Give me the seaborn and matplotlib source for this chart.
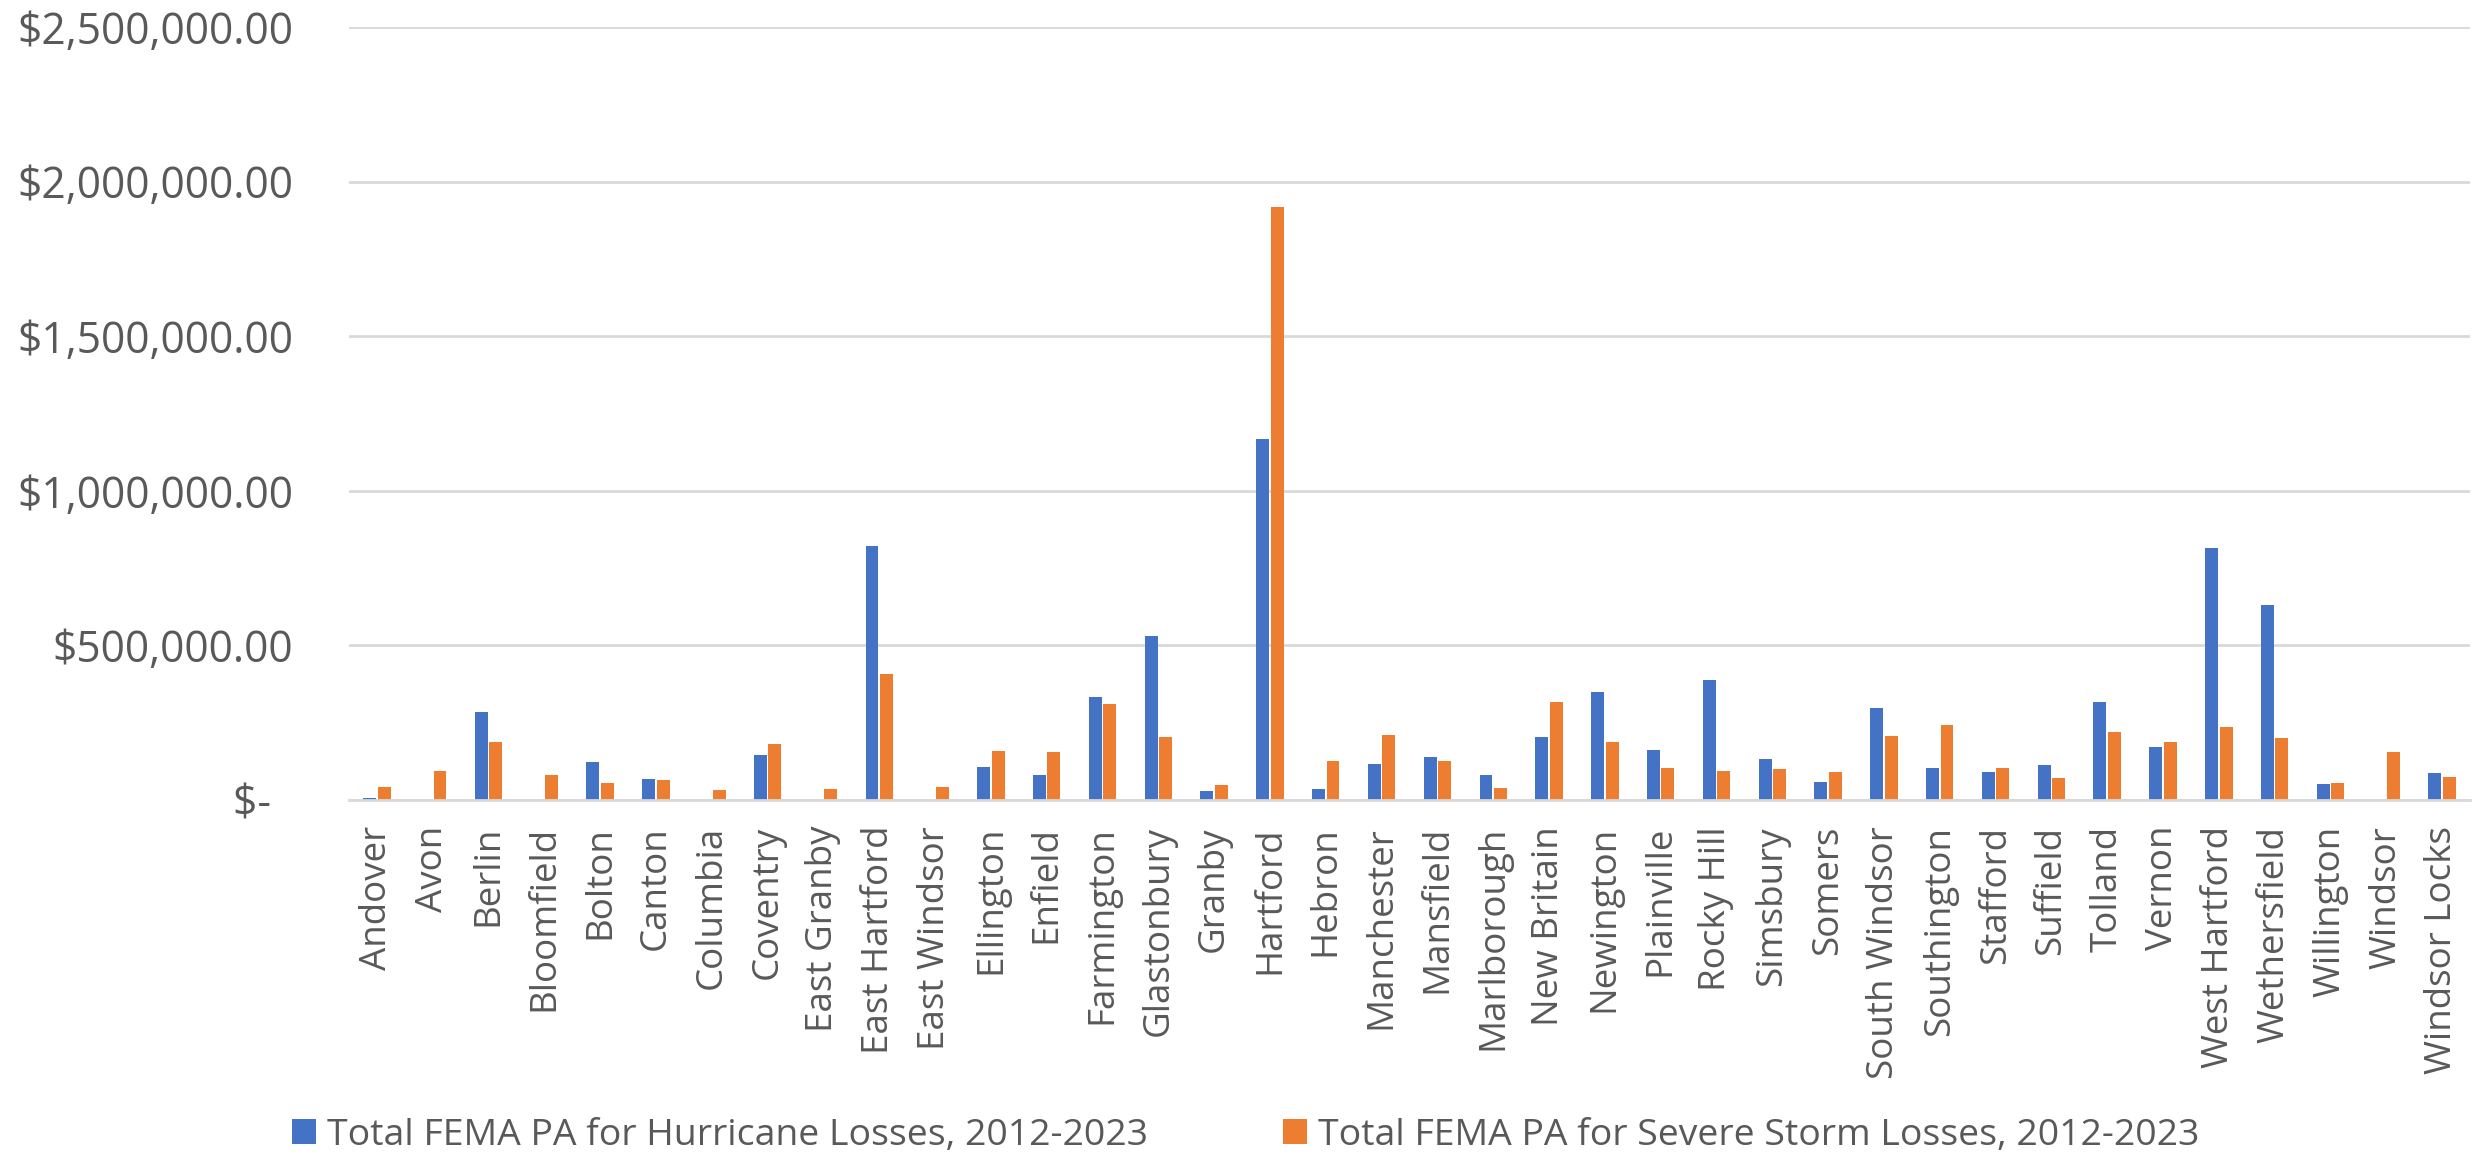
import matplotlib
matplotlib.use("Agg")
import matplotlib.pyplot as plt
import matplotlib.ticker as mticker
from matplotlib.patches import Patch
import seaborn as sns
import pandas as pd

towns = ["Andover", "Avon", "Berlin", "Bloomfield", "Bolton", "Canton", "Columbia",
         "Coventry", "East Granby", "East Hartford", "East Windsor", "Ellington",
         "Enfield", "Farmington", "Glastonbury", "Granby", "Hartford", "Hebron",
         "Manchester", "Mansfield", "Marlborough", "New Britain", "Newington",
         "Plainville", "Rocky Hill", "Simsbury", "Somers", "South Windsor",
         "Southington", "Stafford", "Suffield", "Tolland", "Vernon", "West Hartford",
         "Wethersfield", "Willington", "Windsor", "Windsor Locks"]
hurricane = [6000, 0, 286000, 0, 124000, 69000, 0, 145000, 0, 823000, 0, 107000,
             80000, 333000, 530000, 28000, 1169000, 34000, 115000, 138000, 80000,
             203000, 350000, 161000, 388000, 133000, 57000, 297000, 104000, 90000,
             112000, 316000, 170000, 815000, 632000, 52000, 0, 86000]
storm = [42000, 93000, 187000, 82000, 56000, 65000, 33000, 180000, 37000, 407000,
         43000, 157000, 155000, 309000, 203000, 47000, 1917000, 126000, 211000,
         126000, 39000, 318000, 187000, 102000, 95000, 99000, 92000, 206000,
         241000, 105000, 72000, 221000, 187000, 235000, 200000, 56000, 154000, 75000]
series_names = ["Total FEMA PA for Hurricane Losses, 2012-2023",
                "Total FEMA PA for Severe Storm Losses, 2012-2023"]
y_ticks = [0, 500000, 1000000, 1500000, 2000000, 2500000]

colors = ["#4472C4", "#ED7D31"]
text_color = "#595959"
grid_color = "#D9D9D9"
FONT = ["Open Sans", "DejaVu Sans"]

df = pd.DataFrame({
    "Town": towns * 2,
    "Value": hurricane + storm,
    "Series": [series_names[0]] * len(towns) + [series_names[1]] * len(towns),
})

sns.set_theme(style="white")
plt.rcParams["font.family"] = FONT

W, H, DPI = 2474, 1155, 100
fig = plt.figure(figsize=(W / DPI, H / DPI), dpi=DPI)
renderer = fig.canvas.get_renderer()


def fit_size(s, target_px):
    t = fig.text(0, 0, s, fontsize=10)
    w = t.get_window_extent(renderer).width
    t.remove()
    return 10.0 * target_px / w


ytick_fs = fit_size("$2,500,000.00", 278)
xtick_fs = fit_size("Bloomfield", 185)
legend_fs = fit_size(series_names[0], 821)
legend_px = legend_fs * DPI / 72.0

left_px, right_px, top_px, base_px = 349, 2470, 27, 800
ax = fig.add_axes([left_px / W, 1 - base_px / H, (right_px - left_px) / W,
                   (base_px - top_px) / H])

sns.barplot(data=df, x="Town", y="Value", hue="Series", palette=colors,
            order=towns, hue_order=series_names, width=0.52, gap=0.11,
            linewidth=0, saturation=1, legend=False, ax=ax, errorbar=None)

ax.set_xlim(-0.5, len(towns) - 0.5)
ax.set_ylim(0, 2500000)
ax.set_yticks(y_ticks)


def fmt(v, pos):
    if v == 0:
        return "$-  "
    return "${:,.2f}".format(v)


ax.yaxis.set_major_formatter(mticker.FuncFormatter(fmt))
ax.grid(axis="y", color=grid_color, linewidth=2)
ax.set_axisbelow(True)
for s in ["top", "right", "left"]:
    ax.spines[s].set_visible(False)
ax.spines["bottom"].set_color(grid_color)
ax.spines["bottom"].set_linewidth(2)
ax.tick_params(axis="y", length=0, pad=56 * 72 / DPI, labelsize=ytick_fs,
               labelcolor=text_color)
ax.tick_params(axis="x", length=0, pad=26 * 72 / DPI, labelsize=xtick_fs,
               labelcolor=text_color, rotation=90)
ax.set_xlabel("")
ax.set_ylabel("")

handles = [Patch(facecolor=c, edgecolor="none", linewidth=0) for c in colors]
fig.legend(handles, series_names, loc="center left", ncol=2,
           bbox_to_anchor=(292 / W, 1 - 1136 / H), frameon=False,
           fontsize=legend_fs, labelcolor=text_color,
           handlelength=24 / legend_px, handleheight=24 / legend_px,
           handletextpad=11 / legend_px, columnspacing=135 / legend_px,
           borderpad=0, borderaxespad=0)

fig.savefig("out.png", dpi=DPI)
